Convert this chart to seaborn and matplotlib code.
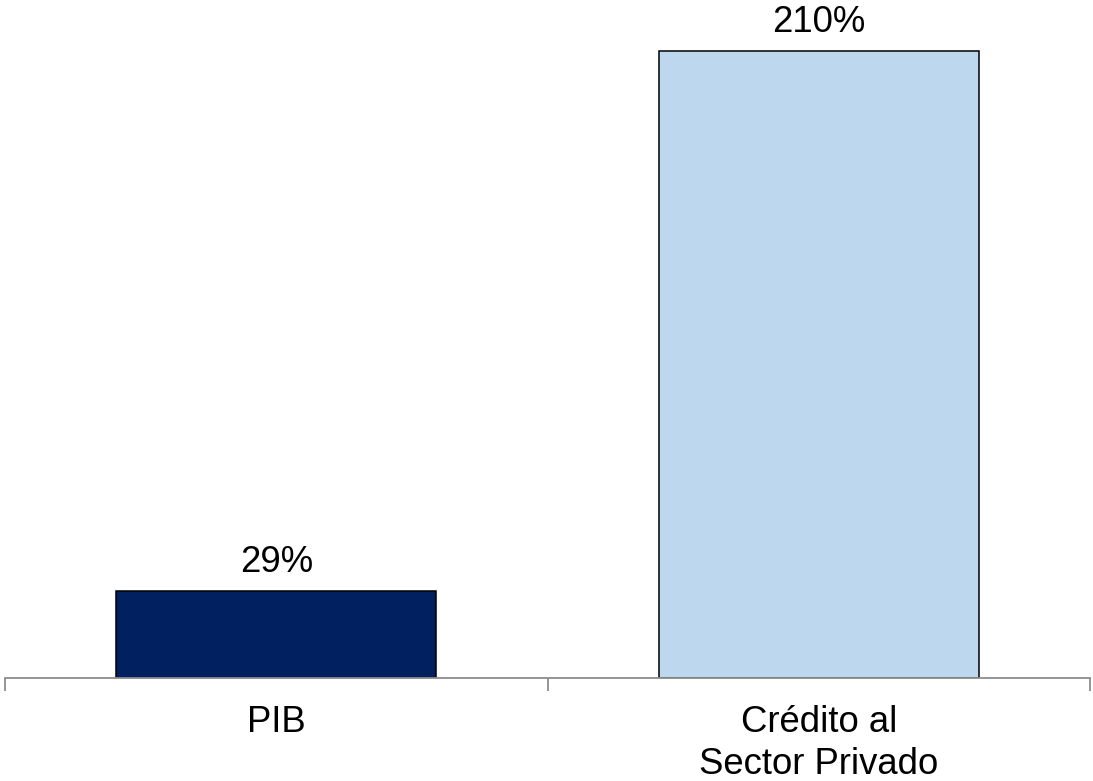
import matplotlib
matplotlib.use("Agg")
import matplotlib.pyplot as plt
import seaborn as sns
import pandas as pd

categories = ["PIB", "Crédito al\nSector Privado"]
values = [29, 210]
labels = ["29%", "210%"]
colors = ["#002060", "#BDD7EE"]

sns.set_style("white")
plt.rcParams["font.family"] = ["Liberation Sans", "DejaVu Sans"]
plt.rcParams["text.color"] = "black"
plt.rcParams["xtick.labelcolor"] = "black"

df = pd.DataFrame({"cat": categories, "val": values})

fig = plt.figure(figsize=(10.93, 7.81), dpi=100)
ax = fig.add_axes([0.0046, 0.1319, 0.9927, 0.841])
sns.barplot(data=df, x="cat", y="val", hue="cat", palette=colors, width=0.59,
            edgecolor="black", linewidth=1.1, legend=False, ax=ax, saturation=1)

for c, lab in zip(ax.containers, labels):
    ax.bar_label(c, labels=[lab], padding=8, fontsize=26.3, color="black")

ax.set_xlim(-0.5, 1.5)
ax.set_ylim(0, 220)
ax.set_xlabel("")
ax.set_ylabel("")
ax.set_yticks([])
for s in ["top", "right", "left"]:
    ax.spines[s].set_visible(False)
ax.spines["bottom"].set_color("#8c8c8c")
ax.spines["bottom"].set_linewidth(1.3)

ax.set_xticks([-0.5, 0.5, 1.5])
ax.set_xticklabels([])
ax.tick_params(axis="x", which="major", direction="out", length=9.5, width=1.3,
               color="#8c8c8c", bottom=True)
ax.set_xticks([0, 1], minor=True)
ax.set_xticklabels(categories, minor=True, fontsize=26.3, linespacing=1.26, color="black")
ax.tick_params(axis="x", which="minor", length=0, pad=19.5)

fig.savefig("out.png", dpi=100)
